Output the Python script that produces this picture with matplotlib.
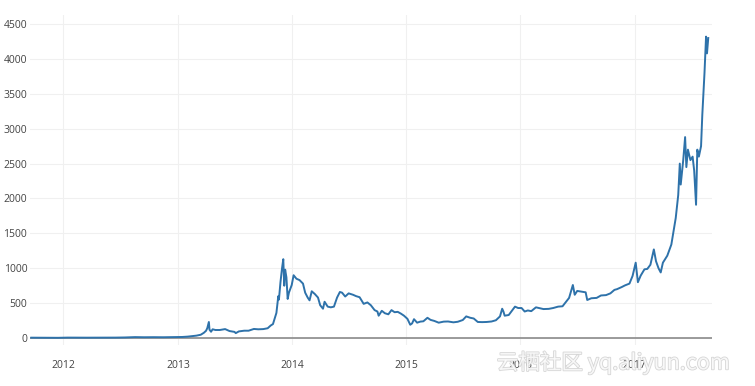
import matplotlib.pyplot as plt
import matplotlib.dates as mdates
import matplotlib.patheffects as pe
import pandas as pd

# Price history (USD)
dates = [
    "2011-09-20", "2011-10-15", "2011-11-15", "2011-12-15", "2012-01-15", "2012-02-15",
    "2012-03-15", "2012-04-15", "2012-05-15", "2012-06-15", "2012-07-15", "2012-08-17",
    "2012-09-15", "2012-10-15", "2012-11-15", "2012-12-15", "2013-01-15", "2013-02-01",
    "2013-02-15", "2013-03-01", "2013-03-15", "2013-03-25", "2013-04-01", "2013-04-05",
    "2013-04-10", "2013-04-12", "2013-04-17", "2013-04-22", "2013-05-01", "2013-05-15",
    "2013-06-01", "2013-06-15", "2013-07-01", "2013-07-05", "2013-07-15", "2013-08-01",
    "2013-08-15", "2013-09-01", "2013-09-15", "2013-10-01", "2013-10-15", "2013-10-25",
    "2013-11-01", "2013-11-08", "2013-11-12", "2013-11-18", "2013-11-20", "2013-11-25",
    "2013-11-30", "2013-12-04", "2013-12-07", "2013-12-10", "2013-12-14", "2013-12-18",
    "2013-12-22", "2013-12-31", "2014-01-06", "2014-01-15", "2014-01-25", "2014-02-05",
    "2014-02-12", "2014-02-20", "2014-02-26", "2014-03-05", "2014-03-15", "2014-03-25",
    "2014-04-01", "2014-04-10", "2014-04-15", "2014-04-25", "2014-05-05", "2014-05-15",
    "2014-05-25", "2014-06-03", "2014-06-10", "2014-06-20", "2014-07-01", "2014-07-15",
    "2014-07-25", "2014-08-05", "2014-08-18", "2014-08-30", "2014-09-10", "2014-09-22",
    "2014-10-01", "2014-10-05", "2014-10-15", "2014-10-25", "2014-11-05", "2014-11-15",
    "2014-11-25", "2014-12-05", "2014-12-15", "2014-12-25", "2015-01-05", "2015-01-14",
    "2015-01-20", "2015-01-26", "2015-02-05", "2015-02-15", "2015-02-25", "2015-03-10",
    "2015-03-20", "2015-04-01", "2015-04-15", "2015-05-01", "2015-05-15", "2015-06-01",
    "2015-06-15", "2015-07-01", "2015-07-12", "2015-07-25", "2015-08-05", "2015-08-18",
    "2015-09-01", "2015-09-15", "2015-10-01", "2015-10-15", "2015-10-28", "2015-11-04",
    "2015-11-08", "2015-11-12", "2015-11-25", "2015-12-05", "2015-12-15", "2015-12-25",
    "2016-01-05", "2016-01-15", "2016-01-25", "2016-02-05", "2016-02-20", "2016-03-01",
    "2016-03-15", "2016-04-01", "2016-04-15", "2016-05-01", "2016-05-15", "2016-05-28",
    "2016-06-05", "2016-06-12", "2016-06-17", "2016-06-23", "2016-07-01", "2016-07-15",
    "2016-07-28", "2016-08-02", "2016-08-15", "2016-09-01", "2016-09-15", "2016-10-01",
    "2016-10-15", "2016-10-28", "2016-11-05", "2016-11-20", "2016-12-01", "2016-12-15",
    "2016-12-25", "2017-01-04", "2017-01-11", "2017-01-20", "2017-02-01", "2017-02-10",
    "2017-02-20", "2017-03-03", "2017-03-10", "2017-03-18", "2017-03-25", "2017-04-01",
    "2017-04-15", "2017-04-28", "2017-05-05", "2017-05-12", "2017-05-20", "2017-05-25",
    "2017-05-28", "2017-06-05", "2017-06-11", "2017-06-15", "2017-06-20", "2017-06-28",
    "2017-07-05", "2017-07-10", "2017-07-16", "2017-07-20", "2017-07-25", "2017-08-01",
    "2017-08-05", "2017-08-12", "2017-08-17", "2017-08-20", "2017-08-24",
]
prices = [
    5, 4, 3, 3, 6, 5,
    5, 5, 5, 6, 8, 13,
    11, 12, 11, 13, 15, 20,
    27, 34, 47, 75, 104, 142,
    230, 120, 90, 125, 115, 115,
    128, 100, 88, 70, 95, 105,
    105, 130, 125, 128, 140, 180,
    200, 300, 360, 600, 550, 800,
    1000, 1130, 750, 980, 870, 560,
    650, 760, 900, 850, 830, 780,
    650, 580, 540, 670, 630, 580,
    470, 420, 520, 450, 440, 450,
    580, 660, 650, 595, 640, 620,
    600, 585, 490, 510, 470, 400,
    380, 320, 390, 355, 340, 400,
    370, 375, 350, 320, 275, 190,
    210, 270, 220, 235, 240, 290,
    260, 245, 220, 235, 237, 225,
    233, 258, 310, 290, 280, 230,
    228, 230, 237, 255, 310, 420,
    380, 320, 330, 390, 450, 430,
    430, 380, 395, 385, 440, 430,
    415, 418, 430, 450, 455, 530,
    575, 680, 760, 620, 675, 665,
    655, 545, 570, 575, 610, 615,
    640, 690, 700, 730, 755, 780,
    890, 1080, 800, 895, 985, 990,
    1050, 1270, 1100, 1000, 940, 1080,
    1180, 1340, 1530, 1720, 2050, 2500,
    2200, 2550, 2880, 2450, 2700, 2550,
    2600, 2400, 1910, 2700, 2600, 2750,
    3200, 3800, 4320, 4080, 4300,
]
year_ticks = ["2012", "2013", "2014", "2015", "2016", "2017"]
y_ticks = [0, 500, 1000, 1500, 2000, 2500, 3000, 3500, 4000, 4500]

x = pd.to_datetime(dates)

fig = plt.figure(figsize=(7.55, 3.86), dpi=100)
ax = fig.add_axes([30 / 755, 41 / 386, 682 / 755, 330 / 386])

ax.plot(x, prices, color="#2e72aa", linewidth=1.4, zorder=3)
ax.axhline(0, color="#8a8a8a", linewidth=1.2, zorder=2)

ax.set_xlim(pd.Timestamp("2011-09-16"), pd.Timestamp("2017-09-05"))
ax.set_ylim(-100, 4630)

ax.set_xticks(pd.to_datetime([y + "-01-01" for y in year_ticks]))
ax.xaxis.set_major_formatter(mdates.DateFormatter("%Y"))
ax.set_yticks(y_ticks)

for s in ax.spines.values():
    s.set_visible(False)
ax.grid(True, color="#f0f0f0", linewidth=0.8, zorder=0)
ax.tick_params(length=0, labelsize=7.5, labelcolor="#444444")
ax.tick_params(axis="y", pad=2)
ax.tick_params(axis="x", pad=11)
for lab in ax.get_xticklabels() + ax.get_yticklabels():
    lab.set_family(["Open Sans", "DejaVu Sans"])

# watermark in the lower right corner
fig.text(0.658, 0.06, "云栖社区 yq.aliyun.com", fontsize=15.5,
         family=["Noto Sans CJK SC", "DejaVu Sans"], color="white", alpha=0.8,
         va="center", zorder=5,
         path_effects=[pe.withStroke(linewidth=1.2, foreground="#cccccc")])

fig.savefig("out.png", dpi=100)
